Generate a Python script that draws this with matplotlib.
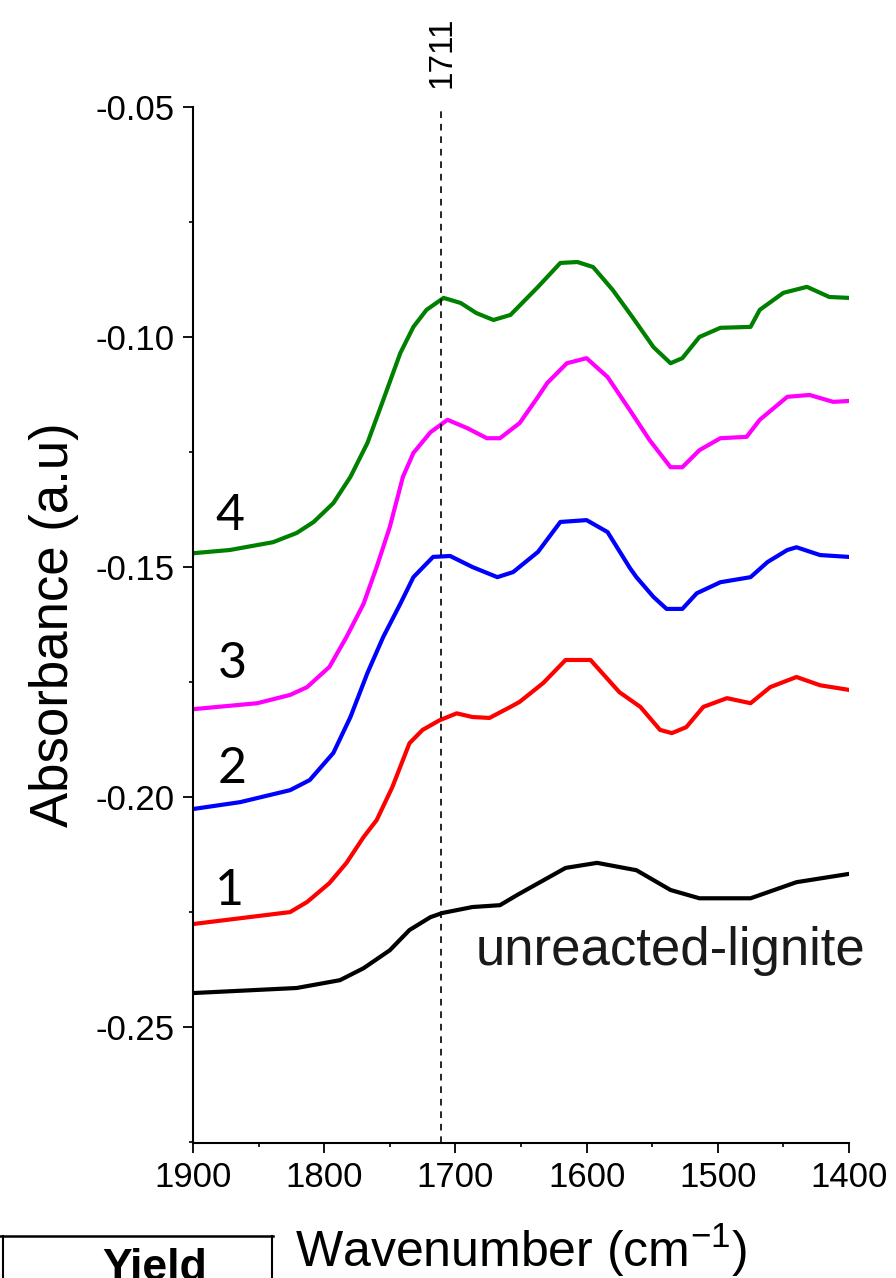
import matplotlib
matplotlib.use('Agg')
import matplotlib.pyplot as plt
from matplotlib.ticker import MultipleLocator
import numpy as np

# FTIR spectra, carbonyl region (wavenumber in cm-1, absorbance in a.u.)
wn_lignite = [1900, 1821, 1788, 1770, 1750, 1735, 1719, 1710, 1687, 1666, 1653,
              1616, 1592, 1562, 1536, 1514, 1475, 1440, 1400]
abs_lignite = [-0.2426, -0.2415, -0.2398, -0.2372, -0.2333, -0.2289, -0.2261, -0.2252,
               -0.2239, -0.2235, -0.2213, -0.2154, -0.2143, -0.2159, -0.2202, -0.2220,
               -0.2220, -0.2185, -0.2167]

wn_1 = [1900, 1826, 1813, 1796, 1783, 1770, 1760, 1748, 1735, 1725, 1712, 1699, 1687,
        1674, 1658, 1651, 1633, 1616, 1597, 1575, 1559, 1544, 1535, 1524, 1511, 1493,
        1475, 1460, 1440, 1422, 1400]
abs_1 = [-0.2276, -0.2250, -0.2228, -0.2187, -0.2143, -0.2087, -0.2050, -0.1978, -0.1883,
         -0.1854, -0.1833, -0.1818, -0.1826, -0.1828, -0.1804, -0.1793, -0.1752, -0.1702,
         -0.1702, -0.1772, -0.1804, -0.1854, -0.1861, -0.1848, -0.1804, -0.1785, -0.1796,
         -0.1761, -0.1739, -0.1757, -0.1767]

wn_2 = [1900, 1864, 1826, 1811, 1793, 1780, 1767, 1755, 1742, 1732, 1717, 1704, 1687,
        1668, 1656, 1637, 1620, 1600, 1584, 1567, 1562, 1549, 1539, 1527, 1516, 1498,
        1475, 1462, 1447, 1440, 1422, 1400]
abs_2 = [-0.2026, -0.2011, -0.1985, -0.1963, -0.1904, -0.1826, -0.1730, -0.1652, -0.1580,
         -0.1522, -0.1478, -0.1476, -0.1500, -0.1522, -0.1511, -0.1467, -0.1402, -0.1398,
         -0.1424, -0.1502, -0.1522, -0.1565, -0.1591, -0.1591, -0.1557, -0.1533, -0.1522,
         -0.1489, -0.1463, -0.1457, -0.1474, -0.1478]

wn_3 = [1900, 1851, 1826, 1813, 1796, 1783, 1770, 1760, 1750, 1740, 1732, 1719, 1706,
        1691, 1676, 1666, 1651, 1637, 1630, 1615, 1600, 1584, 1567, 1552, 1536, 1527,
        1514, 1498, 1478, 1468, 1447, 1430, 1412, 1400]
abs_3 = [-0.1809, -0.1796, -0.1778, -0.1761, -0.1717, -0.1652, -0.1580, -0.1500, -0.1413,
         -0.1304, -0.1252, -0.1207, -0.1180, -0.1198, -0.1220, -0.1220, -0.1187, -0.1130,
         -0.1100, -0.1057, -0.1046, -0.1087, -0.1159, -0.1224, -0.1283, -0.1283, -0.1246,
         -0.1220, -0.1217, -0.1180, -0.1130, -0.1126, -0.1141, -0.1139]

wn_4 = [1900, 1872, 1839, 1821, 1808, 1793, 1780, 1767, 1755, 1742, 1732, 1722, 1709,
        1696, 1684, 1671, 1658, 1637, 1620, 1607, 1595, 1580, 1565, 1549, 1536, 1527,
        1514, 1498, 1475, 1468, 1450, 1432, 1415, 1400]
abs_4 = [-0.1470, -0.1463, -0.1446, -0.1426, -0.1402, -0.1361, -0.1304, -0.1230, -0.1137,
         -0.1035, -0.0978, -0.0941, -0.0915, -0.0926, -0.0948, -0.0963, -0.0952, -0.0891,
         -0.0839, -0.0837, -0.0848, -0.0898, -0.0957, -0.1022, -0.1057, -0.1046, -0.1000,
         -0.0980, -0.0978, -0.0941, -0.0904, -0.0891, -0.0913, -0.0915]

carbonyl_band = 1711

plt.rcParams['font.family'] = ['Liberation Sans', 'DejaVu Sans']

fig = plt.figure(figsize=(8.96, 12.78), dpi=100)
ax = fig.add_axes([0.2154, 0.1056, 0.7321, 0.8107])

ax.plot(wn_lignite, abs_lignite, color='black', lw=3)
ax.plot(wn_1, abs_1, color='#ff0000', lw=3)
ax.plot(wn_2, abs_2, color='#0000ff', lw=3)
ax.plot(wn_3, abs_3, color='#ff00ff', lw=3)
ax.plot(wn_4, abs_4, color='#008000', lw=3)

ax.axvline(carbonyl_band, color='black', lw=1.2, ls=(0, (4, 3.5)))
ax.text(carbonyl_band - 1, 1.018, str(carbonyl_band), transform=ax.get_xaxis_transform(),
        rotation=90, ha='center', va='bottom', fontsize=24)

ax.set_xlim(1900, 1400)
ax.set_ylim(-0.2752, -0.05)
ax.xaxis.set_major_locator(MultipleLocator(100))
ax.xaxis.set_minor_locator(MultipleLocator(50))
ax.yaxis.set_major_locator(MultipleLocator(0.05))
ax.yaxis.set_minor_locator(MultipleLocator(0.025))
ax.yaxis.set_major_formatter(plt.FuncFormatter(lambda v, p: f'{v:.2f}'))

for side in ['top', 'right']:
    ax.spines[side].set_visible(False)
for side in ['left', 'bottom']:
    ax.spines[side].set_linewidth(1.5)
ax.tick_params(which='major', direction='out', length=7, width=1.3, labelsize=25, pad=6)
ax.tick_params(which='minor', direction='out', length=3, width=1.2)

ax.set_ylabel('Absorbance (a.u)', fontsize=38, labelpad=12)
ax.set_xlabel('Wavenumber (cm$^{\\mathregular{-1}}$)', fontsize=36, va='baseline')
ax.xaxis.set_label_coords(0.5, -0.1197)

# curve labels
lbl = dict(fontsize=36, family=['Lato', 'DejaVu Sans'], ha='center', va='center')
ax.text(1872, -0.1390, '4', **lbl)
ax.text(1870, -0.1710, '3', **lbl)
ax.text(1870, -0.1940, '2', **lbl)
ax.text(1872, -0.2205, '1', **lbl)
ax.text(1536, -0.2365, 'unreacted-lignite', fontsize=38, color='#1a1a1a',
        ha='center', va='baseline')

# partial table header at the lower left
fig.add_artist(plt.Line2D([0.0, 0.305], [1 - 1236 / 1278] * 2, color='black', lw=1.8))
fig.add_artist(plt.Line2D([0.0035, 0.0035], [0, 1 - 1236 / 1278], color='black', lw=1.5))
fig.add_artist(plt.Line2D([0.3035, 0.3035], [0, 1 - 1236 / 1278], color='black', lw=1.5))
fig.text(0.173, -0.0015, 'Yield', fontsize=32, fontweight='bold', ha='center', va='baseline')

fig.savefig('out.png', dpi=100)
